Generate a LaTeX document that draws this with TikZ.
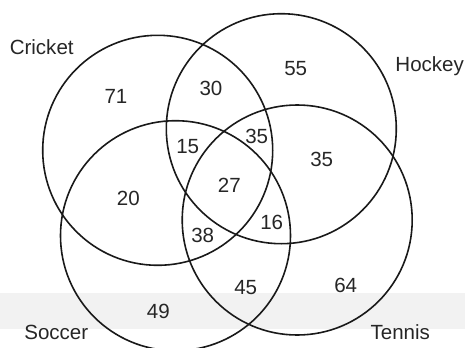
\documentclass[tikz,border=0pt]{standalone}
\usepackage{fontspec}
\setmainfont{Liberation Sans}
\begin{document}
\begin{tikzpicture}[x=0.75pt,y=-0.75pt,
  set/.style={draw=black!90, line width=1.2pt, circle, inner sep=0pt, minimum size=172.5pt},
  num/.style={text=black!85, font=\fontsize{15.4pt}{18pt}\selectfont, inner sep=0pt},
  lbl/.style={num}]
\useasboundingbox (0,0) rectangle (465,347);
\fill[black!5] (0,292.7) rectangle (465,329.3);
\node[set] (cricket) at (157.7,150.3) {};
\node[set] (hockey) at (281.3,128.7) {};
\node[set] (soccer) at (175.5,235.7) {};
\node[set] (tennis) at (297.2,220) {};
\node[lbl] (lc) at (41.7,46.7) {Cricket};
\node[lbl] (lh) at (429.7,66) {Hockey};
\node[lbl] (ls) at (56.3,332) {Soccer};
\node[lbl] (lt) at (400.3,332) {Tennis};
\node[num] (n71) at (116,96.7) {71};
\node[num] (n30) at (211,88.3) {30};
\node[num] (n55) at (295.7,68.3) {55};
\node[num] (n15) at (187.7,146.7) {15};
\node[num] (n35a) at (256.7,136) {35};
\node[num] (n35b) at (321.7,159) {35};
\node[num] (n27) at (229.3,185) {27};
\node[num] (n20) at (128.3,198.3) {20};
\node[num] (n16) at (271.7,222.7) {16};
\node[num] (n38) at (202.7,235.3) {38};
\node[num] (n45) at (245.7,287.7) {45};
\node[num] (n64) at (345.7,285) {64};
\node[num] (n49) at (158.3,311.7) {49};
\end{tikzpicture}
\end{document}
